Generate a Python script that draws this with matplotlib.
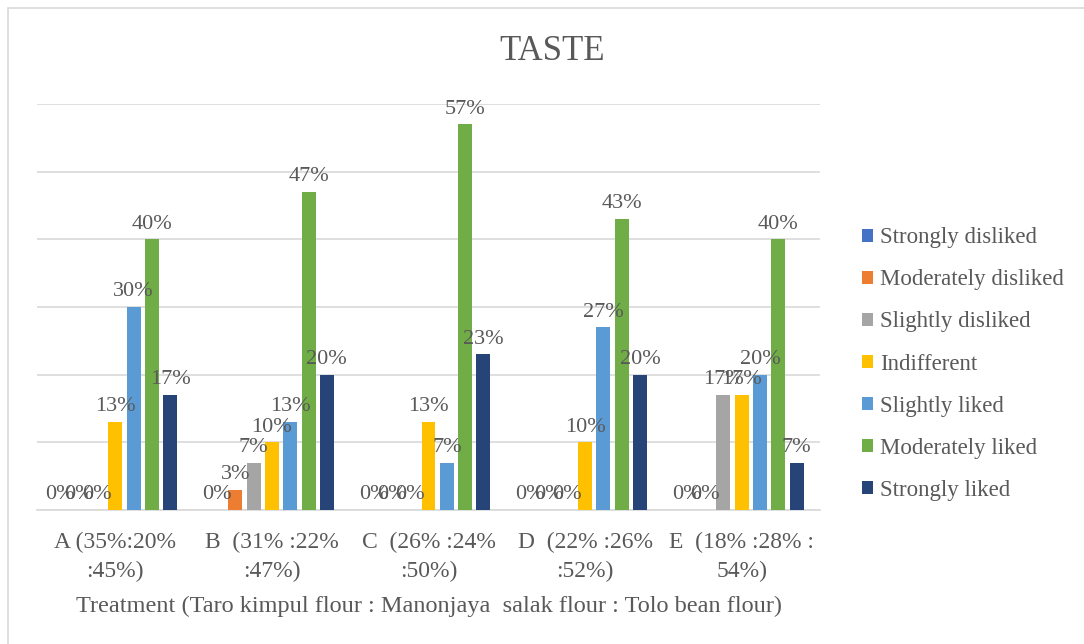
import matplotlib
matplotlib.use("Agg")
import matplotlib.pyplot as plt
import numpy as np
from matplotlib.patches import Rectangle

categories = ["A (35%:20%\n:45%)", "B  (31% :22%\n:47%)", "C  (26% :24%\n:50%)",
              "D  (22% :26%\n:52%)", "E  (18% :28% :\n54%)"]
series_names = ["Strongly disliked", "Moderately disliked", "Slightly disliked",
                "Indifferent", "Slightly liked", "Moderately liked", "Strongly liked"]
strongly_disliked = [0, 0, 0, 0, 0]
moderately_disliked = [0, 3, 0, 0, 0]
slightly_disliked = [0, 7, 0, 0, 17]
indifferent = [13, 10, 13, 10, 17]
slightly_liked = [30, 13, 7, 27, 20]
moderately_liked = [40, 47, 57, 43, 40]
strongly_liked = [17, 20, 23, 20, 7]
series_values = [strongly_disliked, moderately_disliked, slightly_disliked,
                 indifferent, slightly_liked, moderately_liked, strongly_liked]
colors = ["#4472C4", "#ED7D31", "#A5A5A5", "#FFC000", "#5B9BD5", "#70AD47", "#264478"]

title = "TASTE"
xlabel = "Treatment (Taro kimpul flour : Manonjaya  salak flour : Tolo bean flour)"

plt.rcParams['font.family'] = ['Liberation Serif', 'DejaVu Serif']
txt = "#595959"

W, H = 1084, 644
fig = plt.figure(figsize=(W / 100, H / 100), dpi=100)
fig.patch.set_facecolor("white")

# outer chart border (top and left visible)
fig.add_artist(Rectangle((8 / W, -0.1), 1.2, (H - 8) / H + 0.1, transform=fig.transFigure,
                         fill=False, edgecolor="#D9D9D9", linewidth=1.2))

ax = fig.add_axes([37 / W, (H - 510) / H, (820 - 37) / W, 406 / H])
x = np.arange(len(categories))
slot = 0.117
bw = 0.089
n = len(series_names)
for i, (name, vals, c) in enumerate(zip(series_names, series_values, colors)):
    pos = x + (i - (n - 1) / 2) * slot
    bars = ax.bar(pos, vals, width=bw, color=c, label=name, zorder=3)
    for xb, v in zip(pos, vals):
        ax.annotate(f"{v}%", (xb, v), xytext=(0, 4), textcoords="offset points",
                    ha="center", va="bottom", fontsize=16, color=txt, zorder=4)

ax.set_xlim(-0.5, len(categories) - 0.5)
ax.set_ylim(0, 60)
ax.set_yticks(np.arange(0, 61, 10))
ax.yaxis.grid(True, color="#D9D9D9", linewidth=1.2, zorder=0)
ax.tick_params(axis="y", left=False, labelleft=False)
ax.tick_params(axis="x", bottom=False, pad=12)
ax.set_xticks(x)
ax.set_xticklabels(categories, fontsize=17, color=txt, linespacing=1.5)
for s in ["top", "right", "left"]:
    ax.spines[s].set_visible(False)
ax.spines["bottom"].set_color("#D9D9D9")
ax.spines["bottom"].set_linewidth(1.2)
ax.set_xlabel(xlabel, fontsize=17.5, color=txt, labelpad=10)

fig.text(552 / W, (H - 52) / H, title, ha="center", va="center", fontsize=25, color=txt)

handles, labels = ax.get_legend_handles_labels()
leg = fig.legend(handles, labels, loc="center left", bbox_to_anchor=(841 / W, (H - 364) / H),
                 frameon=False, fontsize=16.5, labelcolor=txt, handlelength=0.5,
                 handleheight=0.5, handletextpad=0.3, labelspacing=0.92)

fig.savefig("out.png", dpi=100, facecolor="white")
